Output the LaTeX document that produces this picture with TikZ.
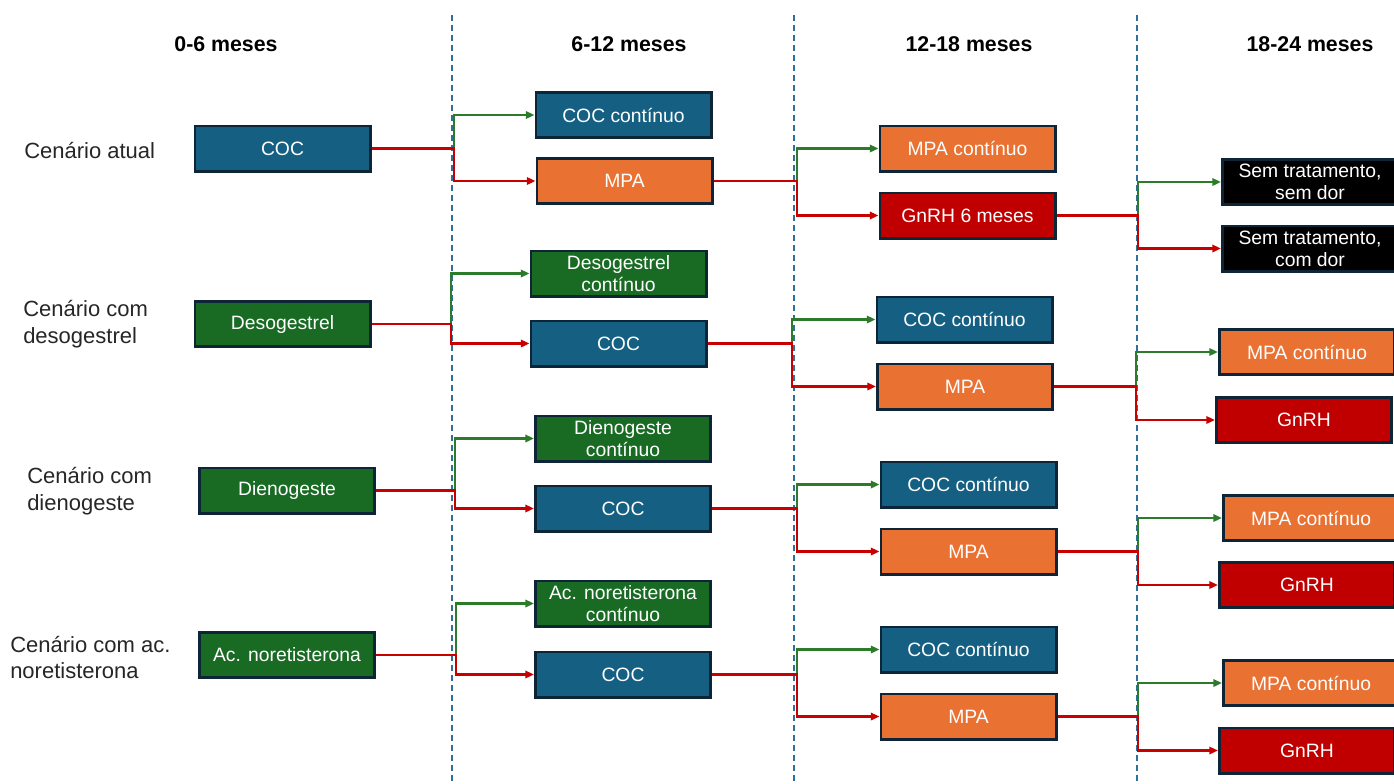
\documentclass[tikz,border=0pt]{standalone}
\usepackage{fontspec}
\setmainfont{Liberation Sans}
\usetikzlibrary{arrows.meta}
\definecolor{cblue}{HTML}{156082}
\definecolor{corange}{HTML}{E97132}
\definecolor{cgreen}{HTML}{196B24}
\definecolor{cred}{HTML}{C00000}
\definecolor{cblack}{HTML}{000000}
\definecolor{cborder}{HTML}{0E2538}
\definecolor{cgline}{HTML}{2B7B2B}
\definecolor{crline}{HTML}{C80000}
\definecolor{cdash}{HTML}{2F6F99}
\definecolor{ctext}{HTML}{262626}
\begin{document}
\begin{tikzpicture}[x=0.75pt,y=-0.75pt,
  box/.style={draw=cborder, line width=2pt, minimum width=131.5pt, minimum height=34pt,
    text=white, font=\fontsize{14.5}{16.5}\selectfont, align=center, inner sep=0pt},
  bluebox/.style={box, fill=cblue},
  orangebox/.style={box, fill=corange},
  greenbox/.style={box, fill=cgreen},
  redbox/.style={box, fill=cred},
  blackbox/.style={box, fill=cblack},
  garrow/.style={draw=cgline, line width=1.8pt, -{Triangle[length=6.5pt,width=5.5pt]}},
  rarrow/.style={draw=crline, line width=1.8pt, -{Triangle[length=6.5pt,width=5.5pt]}},
  dashline/.style={draw=cdash, line width=0.9pt, dash pattern=on 4.5pt off 3pt},
  head/.style={font=\bfseries\fontsize{16}{19}\selectfont, text=black, inner sep=0pt},
  lbl/.style={font=\fontsize{16.5}{20}\selectfont, text=ctext, align=left, anchor=west, inner sep=0pt}
]
\useasboundingbox (0,0) rectangle (1394,783);
\clip (0,0) rectangle (1394,783);

% dashed separators
\draw[dashline] (452,15) -- (452,783);
\draw[dashline] (794,15) -- (794,783);
\draw[dashline] (1137,15) -- (1137,783);

% headers
\node[head] (h1) at (226,44) {0-6 meses};
\node[head] (h2) at (629,44) {6-12 meses};
\node[head] (h3) at (969,44) {12-18 meses};
\node[head] (h4) at (1310,44) {18-24 meses};

% scenario labels
\node[lbl] (l1) at (24,150) {Cenário atual};
\node[lbl] (l2) at (23,324.5) {Cenário com\\desogestrel};
\node[lbl] (l3) at (27,491) {Cenário com\\dienogeste};
\node[lbl] (l4) at (10,657.5) {Cenário com ac.\\noretisterona};

% row 1
\node[bluebox] (a1) at (282.5,148.5) {COC};
\node[bluebox] (b1) at (623.5,115) {COC contínuo};
\node[orangebox] (c1) at (624.5,181) {MPA};
\node[orangebox] (d1) at (967.5,148.5) {MPA contínuo};
\node[redbox] (e1) at (967.5,215.5) {GnRH 6 meses};
\node[blackbox] (f1) at (1310,182) {Sem tratamento,\\sem dor};
\node[blackbox] (g1) at (1310,248.5) {Sem tratamento,\\com dor};

% row 2
\node[greenbox] (a2) at (282.5,324) {Desogestrel};
\node[greenbox] (b2) at (618.5,273.5) {Desogestrel\\contínuo};
\node[bluebox] (c2) at (618.5,343.5) {COC};
\node[bluebox] (d2) at (964.5,319.5) {COC contínuo};
\node[orangebox] (e2) at (965,386.5) {MPA};
\node[orangebox] (f2) at (1307,352) {MPA contínuo};
\node[redbox] (g2) at (1304,420) {GnRH};

% row 3
\node[greenbox] (a3) at (287,490.5) {Dienogeste};
\node[greenbox] (b3) at (623,438.5) {Dienogeste\\contínuo};
\node[bluebox] (c3) at (623,508.5) {COC};
\node[bluebox] (d3) at (968.5,484.5) {COC contínuo};
\node[orangebox] (e3) at (968.5,551.5) {MPA};
\node[orangebox] (f3) at (1311,518) {MPA contínuo};
\node[redbox] (g3) at (1307,585) {GnRH};

% row 4
\node[greenbox] (a4) at (287,655) {Ac. noretisterona};
\node[greenbox] (b4) at (623,603.5) {Ac. noretisterona\\contínuo};
\node[bluebox] (c4) at (623,674.5) {COC};
\node[bluebox] (d4) at (968.5,649.5) {COC contínuo};
\node[orangebox] (e4) at (968.5,716.5) {MPA};
\node[orangebox] (f4) at (1311,683) {MPA contínuo};
\node[redbox] (g4) at (1307,750.5) {GnRH};

% connectors
\foreach \r/\xa/\xb/\xc in {1/454/797/1138, 2/451/792/1136, 3/455/797/1138, 4/456/797/1138} {
  \coordinate (pa\r) at (\xa,0);
  \coordinate (pb\r) at (\xb,0);
  \coordinate (pc\r) at (\xc,0);
  \draw[garrow] (a\r.east) -- (a\r.east -| pa\r) |- (b\r.west);
  \draw[rarrow] (a\r.east) -- (a\r.east -| pa\r) |- (c\r.west);
  \draw[garrow] (c\r.east) -- (c\r.east -| pb\r) |- (d\r.west);
  \draw[rarrow] (c\r.east) -- (c\r.east -| pb\r) |- (e\r.west);
  \draw[garrow] (e\r.east) -- (e\r.east -| pc\r) |- (f\r.west);
  \draw[rarrow] (e\r.east) -- (e\r.east -| pc\r) |- (g\r.west);
}
\end{tikzpicture}
\end{document}
